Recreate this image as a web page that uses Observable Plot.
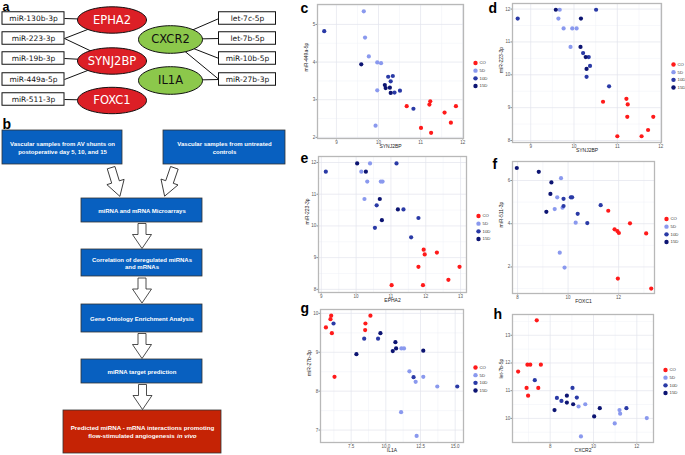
<!DOCTYPE html>
<html><head><meta charset="utf-8">
<script src="https://cdn.jsdelivr.net/npm/d3@7"></script>
<script src="https://cdn.jsdelivr.net/npm/@observablehq/plot@0.6"></script>
<style>
body{margin:0;background:#fff;}
#wrap{position:relative;width:685px;height:455px;overflow:hidden;background:#fff;font-family:"Liberation Sans",Arial,sans-serif;}
.pn{position:absolute;}
</style></head><body><div id="wrap"></div><script>
// ---------- data ----------
const groups = ["CO","5D","10D","15D"];
const groupColors = ["#ff1a1a","#8a99ee","#2a3aa6","#0c1472"];

// [x, y, group]
const panelC = [
 [10.67,2.83,"CO"],[11.23,2.96,"CO"],[11.21,2.87,"CO"],[11.84,2.83,"CO"],[11.57,2.66,"CO"],[11.72,2.39,"CO"],[11.01,2.25,"CO"],[11.25,2.12,"CO"],
 [9.65,5.35,"5D"],[9.68,4.65,"5D"],[9.77,4.15,"5D"],[9.97,3.99,"5D"],[10.06,3.97,"5D"],[9.97,3.25,"5D"],[9.93,2.31,"5D"],
 [8.71,4.82,"10D"],[10.23,3.61,"10D"],[10.34,3.63,"10D"],[10.29,3.49,"10D"],[10.38,3.19,"10D"],[10.51,3.24,"10D"],[10.83,2.76,"10D"],
 [9.59,3.94,"15D"],[10.15,3.39,"15D"],[10.17,3.31,"15D"],[10.27,3.32,"15D"],[10.29,3.18,"15D"]
];
const panelD = [
 [10.67,9.18,"CO"],[11.21,9.27,"CO"],[11.24,9.10,"CO"],[11.23,8.72,"CO"],[11.83,8.72,"CO"],[11.71,8.32,"CO"],[11.0,8.13,"CO"],[11.56,8.13,"CO"],
 [9.67,11.98,"5D"],[9.64,11.71,"5D"],[9.76,11.41,"5D"],[9.96,11.41,"5D"],[10.06,11.41,"5D"],[9.92,10.85,"5D"],
 [10.51,11.98,"10D"],[8.70,11.71,"10D"],[10.21,10.66,"10D"],[10.34,10.54,"10D"],[10.37,10.27,"10D"],[10.29,9.94,"10D"],[10.81,9.65,"10D"],
 [9.58,11.98,"15D"],[10.16,11.71,"15D"],[10.15,10.85,"15D"],[10.27,10.54,"15D"],[10.29,10.18,"15D"]
];
const panelE = [
 [11.94,9.25,"CO"],[12.32,9.16,"CO"],[11.97,9.10,"CO"],[11.79,8.71,"CO"],[12.97,8.71,"CO"],[12.65,8.30,"CO"],[11.02,8.13,"CO"],[11.92,8.13,"CO"],
 [10.40,11.97,"5D"],[10.15,11.71,"5D"],[10.32,11.40,"5D"],[10.71,11.40,"5D"],[10.76,11.40,"5D"],[10.24,10.85,"5D"],
 [11.16,11.97,"10D"],[9.13,11.71,"10D"],[10.59,10.65,"10D"],[11.36,10.52,"10D"],[11.79,10.25,"10D"],[10.54,9.94,"10D"],[11.58,9.64,"10D"],
 [10.03,11.97,"15D"],[10.28,11.71,"15D"],[10.68,10.85,"15D"],[11.20,10.52,"15D"],[10.74,10.18,"15D"]
];
const panelF = [
 [11.59,4.60,"CO"],[12.45,4.02,"CO"],[11.84,3.74,"CO"],[11.95,3.66,"CO"],[12.01,3.57,"CO"],[13.09,3.55,"CO"],[11.97,1.46,"CO"],[13.29,1.00,"CO"],
 [9.72,6.11,"5D"],[9.57,5.22,"5D"],[9.47,4.68,"5D"],[9.78,4.74,"5D"],[10.30,4.05,"5D"],[9.67,2.66,"5D"],[9.86,1.97,"5D"],
 [9.82,5.15,"10D"],[10.11,5.22,"10D"],[10.16,5.22,"10D"],[9.82,4.82,"10D"],[10.38,4.46,"10D"],[10.76,4.03,"10D"],[11.29,4.86,"10D"],
 [7.97,6.58,"15D"],[8.84,6.40,"15D"],[9.34,5.91,"15D"],[9.30,5.38,"15D"],[9.14,4.55,"15D"]
];
const panelG = [
 [6.06,9.94,"CO"],[6.01,9.85,"CO"],[5.68,9.64,"CO"],[6.11,9.49,"CO"],[8.89,9.94,"CO"],[8.53,9.74,"CO"],[8.51,9.57,"CO"],[6.30,8.37,"CO"],
 [11.12,9.10,"5D"],[11.31,9.10,"5D"],[11.70,8.51,"5D"],[12.15,8.24,"5D"],[12.70,8.37,"5D"],[13.71,8.12,"5D"],[11.10,7.46,"5D"],[12.22,6.85,"5D"],
 [6.23,9.74,"10D"],[8.44,9.35,"10D"],[9.44,9.35,"10D"],[12.00,8.36,"10D"],[15.15,8.12,"10D"],
 [7.88,8.95,"15D"],[9.61,9.49,"15D"],[10.69,9.26,"15D"],[10.74,9.10,"15D"],[10.50,9.03,"15D"],[12.70,9.04,"15D"]
];
const panelH = [
 [7.38,13.54,"CO"],[6.52,11.69,"CO"],[6.95,11.94,"CO"],[7.08,11.94,"CO"],[7.57,11.94,"CO"],[6.91,11.10,"CO"],[7.45,11.10,"CO"],[6.98,10.82,"CO"],
 [9.31,10.43,"5D"],[9.62,10.51,"5D"],[11.20,10.30,"5D"],[11.23,10.17,"5D"],[10.98,9.82,"5D"],[12.46,10.01,"5D"],[9.42,9.35,"5D"],
 [7.29,11.38,"10D"],[9.03,11.10,"10D"],[8.31,10.74,"10D"],[8.52,10.63,"10D"],[9.23,10.75,"10D"],[11.52,10.37,"10D"],
 [8.77,10.82,"15D"],[8.77,10.57,"15D"],[9.06,10.51,"15D"],[8.20,10.30,"15D"],[10.03,10.07,"15D"],[10.29,10.37,"15D"]
];

// network (panel a)
const leftMirs = ["miR-130b-3p","miR-223-3p","miR-19b-3p","miR-449a-5p","miR-511-3p"];
const redGenes = ["EPHA2","SYNJ2BP","FOXC1"];
const greenGenes = ["CXCR2","IL1A"];
const rightMirs = ["let-7c-5p","let-7b-5p","miR-10b-5p","miR-27b-3p"];
const edges = [["miR-130b-3p","EPHA2"],["miR-223-3p","EPHA2"],["miR-223-3p","SYNJ2BP"],["miR-19b-3p","SYNJ2BP"],["miR-449a-5p","SYNJ2BP"],["miR-511-3p","FOXC1"],["let-7c-5p","CXCR2"],["let-7b-5p","CXCR2"],["miR-10b-5p","CXCR2"],["miR-27b-3p","CXCR2"],["miR-27b-3p","IL1A"]];

// flowchart (panel b)
const flowTexts = ["Vascular samples from AV shunts on\npostoperative day 5, 10, and 15","Vascular samples from untreated\ncontrols","miRNA and mRNA Microarrays","Correlation of deregulated miRNAs\nand mRNAs","Gene Ontology Enrichment Analysis","miRNA target prediction"];
const finalText = ["Predicted miRNA - mRNA interactions promoting","flow-stimulated angiogenesis ","in vivo"];

// ---------- layout ----------
const nodePos = {
 "miR-130b-3p":[33,18],"miR-223-3p":[33,38],"miR-19b-3p":[33,58],"miR-449a-5p":[33,79],"miR-511-3p":[33,99],
 EPHA2:[111.5,19.5],SYNJ2BP:[111.5,60.5],FOXC1:[111.5,100],
 CXCR2:[170,39],IL1A:[170,80],
 "let-7c-5p":[247,18],"let-7b-5p":[247,38],"miR-10b-5p":[247,58],"miR-27b-3p":[247,79]
};
const flowBoxes = [[2,122,130,164],[163,285,130,164],[81,202,198,222],[81,202,249,276],[81,202,304,332],[81,202,359,383],[63,221,410,453]];
const diagArrows = [[115,181.5,-17],[169,181.5,19]];
const letters = [["a",2,10.5,12.5],["b",2,128,14],["c",300,12,14],["d",488,12,14],["e",300,162,14],["f",492,168,14],["g",300,312,14],["h",493,318,14]];

function ellipseSymbol(rx, ry){ const k=0.5523; return {draw(c){ c.moveTo(rx,0); c.bezierCurveTo(rx,ry*k,rx*k,ry,0,ry); c.bezierCurveTo(-rx*k,ry,-rx,ry*k,-rx,0); c.bezierCurveTo(-rx,-ry*k,-rx*k,-ry,0,-ry); c.bezierCurveTo(rx*k,-ry,rx,-ry*k,rx,0); c.closePath(); }}; }
function arrowSymbol(L, hw, sw, hl){ return {draw(c){ const t=-L/2,b=L/2,hb=b-hl; c.moveTo(-sw/2,t); c.lineTo(sw/2,t); c.lineTo(sw/2,hb); c.lineTo(hw/2,hb); c.lineTo(0,b); c.lineTo(-hw/2,hb); c.lineTo(-sw/2,hb); c.closePath(); }}; }

const wrap = document.getElementById("wrap");
const place = (el, l, t) => { el.classList.add("pn"); el.style.left = l+"px"; el.style.top = t+"px"; wrap.appendChild(el); };

// ---------- background diagram (panels a, b and letters) ----------
const mirEnd = m => leftMirs.includes(m) ? [nodePos[m][0]+31, nodePos[m][1]] : [nodePos[m][0]-28.5, nodePos[m][1]];
const vArrows = flowBoxes.slice(2).slice(0,-1).map((b,i) => [ (flowBoxes[i+3][0]+flowBoxes[i+3][1])/2 , (b[3]+flowBoxes[i+3][2])/2 ]);
const blueBoxes = flowBoxes.slice(0,6).map((b,i)=>({b, t: flowTexts[i]}));
const fb = flowBoxes[6];

const diagram = Plot.plot({
  width: 685, height: 455, margin: 0,
  x: {domain:[0,685], range:[0,685], axis:null},
  y: {domain:[0,455], range:[0,455], axis:null},
  style: {background:"none", fontFamily:"Liberation Sans, Arial, sans-serif"},
  marks: [
    Plot.link(edges, {x1: d=>mirEnd(d[0])[0], y1: d=>mirEnd(d[0])[1], x2: d=>nodePos[d[1]][0], y2: d=>nodePos[d[1]][1], stroke:"#111", strokeWidth:1}),
    Plot.rect(leftMirs, {x1:d=>nodePos[d][0]-31, x2:d=>nodePos[d][0]+31, y1:d=>nodePos[d][1]-6.25, y2:d=>nodePos[d][1]+6.25, fill:"white", stroke:"#111", strokeWidth:1}),
    Plot.rect(rightMirs, {x1:d=>nodePos[d][0]-28.5, x2:d=>nodePos[d][0]+28.5, y1:d=>nodePos[d][1]-6.25, y2:d=>nodePos[d][1]+6.25, fill:"white", stroke:"#111", strokeWidth:1}),
    Plot.text(leftMirs.concat(rightMirs), {x:d=>nodePos[d][0], y:d=>nodePos[d][1], text:d=>d, fontSize:7.5, fontFamily:"DejaVu Sans", fill:"#111"}),
    Plot.dot(redGenes, {x:d=>nodePos[d][0], y:d=>nodePos[d][1], symbol: ellipseSymbol(34.5,13.2), fill:"#dc1f26", stroke:"#111", strokeWidth:1}),
    Plot.dot(greenGenes, {x:d=>nodePos[d][0], y:d=>nodePos[d][1], symbol: ellipseSymbol(32,13.8), fill:"#8cc84b", stroke:"#111", strokeWidth:1}),
    Plot.text(redGenes, {x:d=>nodePos[d][0], y:d=>nodePos[d][1], text:d=>d, fontSize:11.5, fontFamily:"DejaVu Sans", fill:"white"}),
    Plot.text(greenGenes, {x:d=>nodePos[d][0], y:d=>nodePos[d][1], text:d=>d, fontSize:11.5, fontFamily:"DejaVu Sans", fill:"#111"}),
    // flowchart
    Plot.rect(blueBoxes, {x1:d=>d.b[0], x2:d=>d.b[1], y1:d=>d.b[2], y2:d=>d.b[3], fill:"#0860c0", stroke:"#333", strokeWidth:0.8}),
    Plot.rect([fb], {x1:d=>d[0], x2:d=>d[1], y1:d=>d[2], y2:d=>d[3], fill:"#c52305", stroke:"#333", strokeWidth:0.8}),
    Plot.text(blueBoxes, {x:d=>(d.b[0]+d.b[1])/2, y:d=>(d.b[2]+d.b[3])/2, text:d=>d.t, fill:"white", fontWeight:"bold", fontSize:6, lineHeight:1.3}),
    Plot.text([finalText[0]], {x:(fb[0]+fb[1])/2, y:(fb[2]+fb[3])/2-4, text:d=>d, fill:"white", fontWeight:"bold", fontSize:6.2}),
    Plot.text([finalText[1]], {x:176, y:(fb[2]+fb[3])/2+4, text:d=>d, textAnchor:"end", fill:"white", fontWeight:"bold", fontSize:6.2}),
    Plot.text([finalText[2]], {x:176.5, y:(fb[2]+fb[3])/2+4, text:d=>d, textAnchor:"start", fill:"white", fontWeight:"bold", fontStyle:"italic", fontSize:6.2}),
    Plot.dot(vArrows, {x:d=>d[0], y:d=>d[1], symbol: arrowSymbol(25,19,8,14), fill:"white", stroke:"#222", strokeWidth:0.8}),
    Plot.dot(diagArrows, {x:d=>d[0], y:d=>d[1], rotate:d=>d[2], symbol: arrowSymbol(30,18,8,15), fill:"white", stroke:"#222", strokeWidth:0.8}),
    Plot.text(letters, {x:d=>d[1], y:d=>d[2]-0.32*d[3], text:d=>d[0], textAnchor:"start", fontWeight:"bold", fontSize:d=>d[3], fill:"#000"})
  ]
});
place(diagram, 0, 0);

// ---------- scatter panels ----------
const panels = [
 {rows:panelC, xl:"SYNJ2BP", yl:"miR-449a-5p", xd:[8.55,12.02], yd:[1.97,5.53], xt:[9,10,11,12], yt:[2,3,4,5], box:[300,0,200,152], m:[4,37,14,17]},
 {rows:panelD, xl:"SYNJ2BP", yl:"miR-223-3p", xd:[8.58,12.02], yd:[7.94,12.17], xt:[9,10,11,12], yt:[8,9,10,11,12], box:[495,0,190,158], m:[3,24,16,17]},
 {rows:panelE, xl:"EPHA2", yl:"miR-223-3p", xd:[8.92,13.17], yd:[7.9,12.19], xt:[9,10,11,12,13], yt:[8,9,10,11,12], box:[300,150,200,155], m:[6,34,13,18]},
 {rows:panelF, xl:"FOXC1", yl:"miR-511-3p", xd:[7.8,13.42], yd:[0.77,6.88], xt:[8,10,12], yt:[2,4,6], box:[495,150,190,155], m:[11,31,12,17]},
 {rows:panelG, xl:"IL1A", yl:"miR-27b-3p", xd:[5.29,15.6], yd:[6.68,10.1], xt:[7.5,10,12.5,15], yt:[7,8,9,10], xf:d3.format(".1f"), box:[300,300,200,155], m:[9,37,13,20]},
 {rows:panelH, xl:"CXCR2", yl:"let-7b-5p", xd:[6.26,12.77], yd:[9.13,13.75], xt:[8,10,12], yt:[10,11,12,13], box:[495,300,190,155], m:[14,32,13,17]}
];

function minors(t, [a,b]){ const s=t[1]-t[0]; let v=t[0]-s/2; while (v-s>a) v-=s; const out=[]; for(; v<b; v+=s) if (v>a) out.push(v); return out; }

for (const p of panels) {
  const legend = groups.flatMap((g,i) => {
    const dy = 3 + (i-1.5)*7.7;
    return [
      Plot.dot([g], {frameAnchor:"right", dx:12, dy, r:2.2, fill:groupColors[i]}),
      Plot.text([g], {frameAnchor:"right", dx:16, dy, text:d=>d, textAnchor:"start", fontSize:4.3, fill:"#333"})
    ];
  });
  const chart = Plot.plot({
    width:p.box[2], height:p.box[3],
    marginTop:p.m[0], marginRight:p.m[1], marginBottom:p.m[2], marginLeft:p.m[3],
    x:{domain:p.xd}, y:{domain:p.yd},
    color:{domain:groups, range:groupColors},
    style:{background:"none", fontFamily:"Liberation Sans, Arial, sans-serif", fontSize:"4.5px", overflow:"visible"},
    marks:[
      Plot.gridX(minors(p.xt,p.xd), {stroke:"#eef0f6", strokeOpacity:1, strokeWidth:0.5}),
      Plot.gridY(minors(p.yt,p.yd), {stroke:"#eef0f6", strokeOpacity:1, strokeWidth:0.5}),
      Plot.gridX(p.xt, {stroke:"#e2e4ec", strokeOpacity:1, strokeWidth:0.7}),
      Plot.gridY(p.yt, {stroke:"#e2e4ec", strokeOpacity:1, strokeWidth:0.7}),
      Plot.axisX(p.xt, {tickSize:1.5, tickPadding:0.5, stroke:"#888", fill:"#555", label:null, tickFormat:p.xf}),
      Plot.axisY(p.yt, {tickSize:1.5, tickPadding:0.8, stroke:"#888", fill:"#555", label:null}),
      Plot.dot(p.rows, {x:d=>d[0], y:d=>d[1], fill:d=>d[2], r:2.1}),
      Plot.frame({stroke:"#b8b8b8", strokeWidth:1.3}),
      Plot.text([p.xl], {frameAnchor:"bottom", dy:9.8, text:d=>d, fontSize:5, fill:"#222"}),
      Plot.text([p.yl], {frameAnchor:"left", dx:-11, rotate:-90, text:d=>d, fontSize:5, fill:"#222"}),
      ...legend
    ]
  });
  place(chart, p.box[0], p.box[1]);
}
</script></body></html>
